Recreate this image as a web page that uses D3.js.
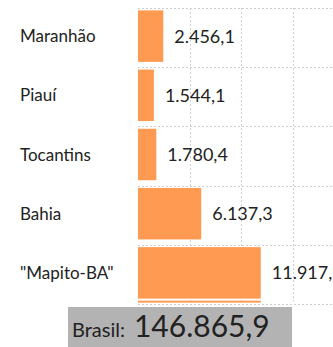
<!DOCTYPE html>
<html>
<head>
<meta charset="utf-8">
<script src="https://cdn.jsdelivr.net/npm/d3@7/dist/d3.min.js"></script>
<style>
  html, body { margin: 0; padding: 0; background: #fff; }
  svg { display: block; }
  text { font-family: "Century Gothic", "Lato", "DejaVu Sans", sans-serif; fill: #222; }
</style>
</head>
<body>
<svg id="chart" width="333" height="347"></svg>
<script>
const categories = ["Maranhão", "Piauí", "Tocantins", "Bahia", "\"Mapito-BA\""];
const values = [2456.1, 1544.1, 1780.4, 6137.3, 11917.9];
const valueLabels = ["2.456,1", "1.544,1", "1.780,4", "6.137,3", "11.917,9"];
const gridTicks = [5000, 10000, 15000, 20000];
const totalLabel = "Brasil:";
const totalValue = "146.865,9";

const svg = d3.select("#chart");
const W = 333, H = 347;
const x = d3.scaleLinear().domain([0, 20000]).range([138, 344]);
const y = d3.scaleBand().domain(categories).range([8, 301]).paddingInner(0.13).paddingOuter(0.04);
const step = y.step();

// grid
const grid = svg.append("g").attr("stroke", "#cfcfcf").attr("stroke-width", 1).attr("stroke-dasharray", "2,2").attr("fill", "none");
grid.selectAll("line.v").data(gridTicks).join("line").attr("class", "v")
  .attr("x1", d => Math.round(x(d)) + 0.5).attr("x2", d => Math.round(x(d)) + 0.5)
  .attr("y1", 8).attr("y2", 301);
const hLines = d3.range(categories.length + 1).map(i => 8 + i * step);
grid.selectAll("line.h").data(hLines).join("line").attr("class", "h")
  .attr("x1", x(0)).attr("x2", W)
  .attr("y1", d => Math.round(d) + 0.5).attr("y2", d => Math.round(d) + 0.5);

// bars
svg.append("g").selectAll("rect").data(values).join("rect")
  .attr("x", x(0))
  .attr("y", (d, i) => y(categories[i]))
  .attr("width", d => x(d) - x(0))
  .attr("height", y.bandwidth())
  .attr("fill", "#fe9a52");

// thin underline under last bar
const last = categories.length - 1;
svg.append("rect")
  .attr("x", x(0))
  .attr("y", y(categories[last]) + y.bandwidth() + 2)
  .attr("width", x(values[last]) - x(0))
  .attr("height", 2)
  .attr("fill", "#fe9a52");

// category labels
svg.append("g").selectAll("text").data(categories).join("text")
  .attr("x", 20)
  .attr("y", d => y(d) + y.bandwidth() / 2)
  .attr("dy", "0.36em")
  .attr("font-size", 17)
  .text(d => d);

// value labels
svg.append("g").selectAll("text").data(values).join("text")
  .attr("x", d => x(d) + 11)
  .attr("y", (d, i) => y(categories[i]) + y.bandwidth() / 2)
  .attr("dy", "0.36em")
  .attr("font-size", 18)
  .text((d, i) => valueLabels[i]);

// total box
svg.append("rect").attr("x", 68).attr("y", 307).attr("width", 224).attr("height", 45).attr("fill", "#b3b3b3");
const t = svg.append("text").attr("x", 72).attr("y", 337);
t.append("tspan").attr("font-size", 20).text(totalLabel);
t.append("tspan").attr("font-size", 30).attr("dx", 9).text(totalValue);
</script>
</body>
</html>
